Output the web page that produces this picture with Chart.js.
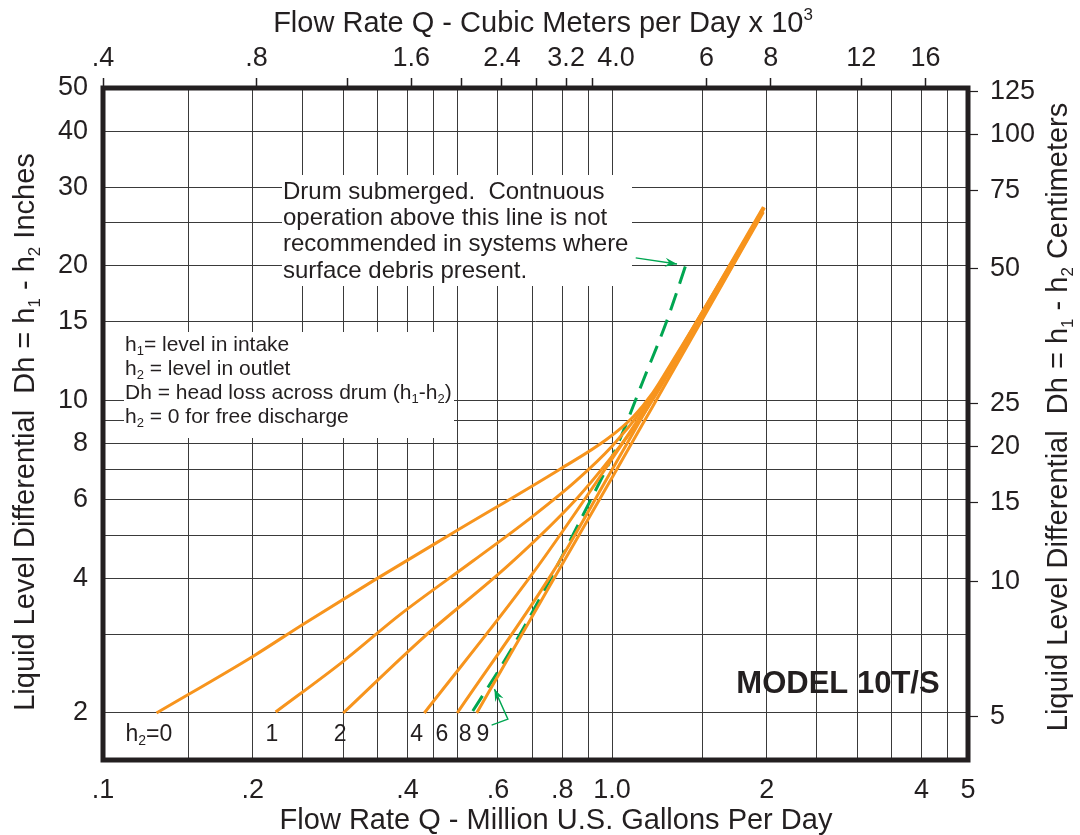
<!DOCTYPE html>
<html>
<head>
<meta charset="utf-8">
<script src="https://cdn.jsdelivr.net/npm/chart.js@4.4.1/dist/chart.umd.min.js"></script>
<style>
html,body{margin:0;padding:0;background:#ffffff;}
#wrap{width:1080px;height:835px;position:relative;}
</style>
</head>
<body>
<div id="wrap"><canvas id="c"></canvas></div>
<script>
// ---------------- DATA ----------------
// Flow rate Q in million U.S. gallons per day, head loss Dh in inches
const FLOW_H2_0 = [0.130, 0.2005, 0.2508, 0.343, 0.491, 0.792, 0.977, 1.10, 1.20, 1.32, 1.47, 1.97];
const DH_H2_0   = [2.00,  2.68,   3.16,   3.95,  5.06,  7.02,  8.19,  9.2,  10.4, 12.4, 15.2, 27.1];

const FLOW_H2_1 = [0.2217, 0.300, 0.387, 0.537, 0.70, 0.85, 1.00, 1.15, 1.30, 1.47, 1.96];
const DH_H2_1   = [2.01,   2.61,  3.32,  4.38,  5.5,  6.6,  7.9,  9.6,  11.9, 14.8, 26.3];

const FLOW_H2_2 = [0.300, 0.4295, 0.633, 0.85, 1.00, 1.15, 1.30, 1.47, 1.97];
const DH_H2_2   = [2.00,  2.95,   4.31,  6.0,  7.5,  9.3,  11.7, 15.0, 26.9];

const FLOW_H2_4 = [0.4314, 0.693, 1.00, 1.20, 1.47, 1.98];
const DH_H2_4   = [2.00,   4.03,  7.4,  10.2, 15.2, 27.0];

const FLOW_H2_8 = [0.500, 0.764, 1.00, 1.20, 1.47, 1.96];
const DH_H2_8   = [2.00,  4.10,  7.0,  10.1, 15.1, 26.5];

const FLOW_H2_9 = [0.5455, 0.80, 1.00, 1.20, 1.47, 1.97];
const DH_H2_9   = [2.00,   4.3,  6.72, 9.7,  14.6, 26.4];

// "Drum submerged" limit (green dashed)
const FLOW_LIMIT = [0.536, 0.622, 0.741, 0.873, 1.027, 1.149, 1.278, 1.406];
const DH_LIMIT   = [2.02,  2.65,  3.79,  5.47,  8.0,   11.06, 15.06, 20.8];

// Axes
const X_MIN = 0.1023, X_MAX = 4.926;          // MGD
const Y_MIN = 1.57,   Y_MAX = 50;             // inches
const TOP_FACTOR = 3.93;                       // top-axis units per MGD (as drawn)
const CM_PER_INCH = 2.54;

const X_GRID = [0.15, 0.2, 0.25, 0.3, 0.35, 0.4, 0.45, 0.5, 0.6, 0.7, 0.8, 0.9, 1.0, 1.5, 2, 2.5, 3, 3.5, 4, 4.5];
const X_LABEL_VALUES = [0.1, 0.2, 0.4, 0.6, 0.8, 1.0, 2, 4, 5];
const X_LABEL_TEXT   = ['.1', '.2', '.4', '.6', '.8', '1.0', '2', '4', '5'];

const TOP_TICK_VALUES = [0.4, 0.8, 1.2, 1.6, 2.0, 2.4, 2.8, 3.2, 3.6, 4.0, 6, 8, 12, 16];
const TOP_LABEL_VALUES = [0.4, 0.8, 1.6, 2.4, 3.2, 4.0, 6, 8, 12, 16];
const TOP_LABEL_TEXT   = ['.4', '.8', '1.6', '2.4', '3.2', '4.0', '6', '8', '12', '16'];

const Y_GRID = [2, 3, 4, 5, 6, 7, 8, 9, 10, 15, 20, 25, 30, 40];
const Y_LABEL_VALUES = [2, 4, 6, 8, 10, 15, 20, 30, 40, 50];

const CM_LABEL_VALUES = [5, 10, 15, 20, 25, 50, 75, 100, 125];

const CURVE_NAMES = ['h2=0', 'h2=1', 'h2=2', 'h2=4', 'h2=8', 'h2=9'];
const CURVE_FLOWS = [FLOW_H2_0, FLOW_H2_1, FLOW_H2_2, FLOW_H2_4, FLOW_H2_8, FLOW_H2_9];
const CURVE_DHS   = [DH_H2_0, DH_H2_1, DH_H2_2, DH_H2_4, DH_H2_8, DH_H2_9];

const CURVE_LABEL_TEXT = ['h_2=0', '1', '2', '4', '6', '8', '9'];
const CURVE_LABEL_FLOW = [0.1256, 0.218, 0.296, 0.417, 0.467, 0.518, 0.561];
const CURVE_LABEL_DH = 1.81;

// ---------------- STYLE / LAYOUT ----------------
const FONT = "'Liberation Sans', Arial, Helvetica, sans-serif";
const INK = '#231f20';
const GRIDC = '#3a3a3a';
const ORANGE = '#f7941d';
const GREEN = '#00a651';
const TICK_SIZE = 27;

const LAYOUT = {
  left: 103, right: 112, top: 88, bottom: 75,
  topTitle: {x: 543, y: 22, size: 29, text: 'Flow Rate Q - Cubic Meters per Day x 10^3'},
  bottomTitle: {x: 556, y: 819, size: 29, text: 'Flow Rate Q - Million U.S. Gallons Per Day'},
  leftTitle: {x: 24, y: 432, size: 29, text: 'Liquid Level Differential  Dh = h_1 - h_2 Inches'},
  rightTitle: {x: 1057, y: 417, size: 29, text: 'Liquid Level Differential  Dh = h_1 - h_2 Centimeters'},
  noteBox: {x: 282, y: 175, w: 350, h: 111, tx: 283, ty: 190, dy: 26.3, size: 24,
    lines: ['Drum submerged.  Contnuous', 'operation above this line is not', 'recommended in systems where', 'surface debris present.']},
  keyBox: {x: 124, y: 332, w: 330, h: 106, tx: 125, ty: 343, dy: 24.2, size: 21,
    lines: ['h_1= level in intake', 'h_2 = level in outlet', 'Dh = head loss across drum (h_1-h_2)', 'h_2 = 0 for free discharge']},
  model: {x: 838, y: 682, size: 31, text: 'MODEL 10T/S'},
  arrow1: [[1.112, 20.84], [1.338, 20.2]],
  arrow2: [[0.5832, 1.879], [0.6273, 1.938], [0.5906, 2.262]]
};

// ---------------- helpers ----------------
function points(xs, ys) { return xs.map((x, i) => ({x: x, y: ys[i]})); }

function tickObjects(gridVals, labelVals, labelTexts, min, max) {
  const map = new Map();
  gridVals.forEach(v => { if (v >= min && v <= max) map.set(v, ''); });
  labelVals.forEach((v, i) => {
    const c = Math.min(max, Math.max(min, v));
    map.set(c, labelTexts[i]);
  });
  return [...map.entries()].sort((a, b) => a[0] - b[0]).map(([v, t]) => ({value: v, text: t}));
}

function richParts(str) {
  const parts = []; let i = 0;
  while (i < str.length) {
    const ch = str[i];
    if ((ch === '_' || ch === '^') && i + 1 < str.length) {
      parts.push({t: str[i + 1], mode: ch === '_' ? 'sub' : 'sup'}); i += 2;
    } else {
      let s = '';
      while (i < str.length && str[i] !== '_' && str[i] !== '^') { s += str[i]; i++; }
      parts.push({t: s, mode: 'n'});
    }
  }
  return parts;
}

function drawRich(ctx, str, x, y, size, opts) {
  opts = opts || {};
  const parts = richParts(str);
  const fontFor = m => (opts.bold ? 'bold ' : '') + (m === 'n' ? size : Math.round(size * 0.6)) + 'px ' + FONT;
  ctx.save();
  ctx.translate(x, y);
  if (opts.rotate) ctx.rotate(opts.rotate);
  let w = 0;
  parts.forEach(p => { ctx.font = fontFor(p.mode); p.w = ctx.measureText(p.t).width; w += p.w; });
  let cx = opts.align === 'center' ? -w / 2 : 0;
  ctx.textAlign = 'left';
  ctx.textBaseline = 'alphabetic';
  ctx.fillStyle = opts.color || INK;
  const base = size * 0.36;
  parts.forEach(p => {
    ctx.font = fontFor(p.mode);
    let dy = base;
    if (p.mode === 'sub') dy += size * 0.2;
    if (p.mode === 'sup') dy -= size * 0.42;
    ctx.fillText(p.t, cx, dy);
    cx += p.w;
  });
  ctx.restore();
}

function drawArrow(ctx, pts, color) {
  ctx.save();
  ctx.strokeStyle = color; ctx.fillStyle = color; ctx.lineWidth = 1.4;
  ctx.beginPath();
  ctx.moveTo(pts[0][0], pts[0][1]);
  for (let i = 1; i < pts.length; i++) ctx.lineTo(pts[i][0], pts[i][1]);
  ctx.stroke();
  const [x1, y1] = pts[pts.length - 2], [x2, y2] = pts[pts.length - 1];
  const a = Math.atan2(y2 - y1, x2 - x1), L = 12, W = 4.5;
  const c = Math.cos(a), s = Math.sin(a);
  ctx.beginPath();
  ctx.moveTo(x2, y2);
  ctx.lineTo(x2 - L * c + W * s, y2 - L * s - W * c);
  ctx.lineTo(x2 - 0.65 * L * c, y2 - 0.65 * L * s);
  ctx.lineTo(x2 - L * c - W * s, y2 - L * s + W * c);
  ctx.closePath();
  ctx.fill();
  ctx.restore();
}

// ---------------- plugins ----------------
const decorPlugin = {
  id: 'decor',
  beforeDatasetsDraw(chart) {
    const ctx = chart.ctx;
    [LAYOUT.noteBox, LAYOUT.keyBox].forEach(b => {
      ctx.save();
      ctx.fillStyle = '#ffffff';
      ctx.fillRect(b.x, b.y, b.w, b.h);
      ctx.restore();
      b.lines.forEach((ln, i) => drawRich(ctx, ln, b.tx, b.ty + i * b.dy, b.size));
    });
    const xs = chart.scales.x, ys = chart.scales.y;
    CURVE_LABEL_TEXT.forEach((t, i) => {
      drawRich(ctx, t, xs.getPixelForValue(CURVE_LABEL_FLOW[i]), ys.getPixelForValue(CURVE_LABEL_DH), 23, {align: 'center'});
    });
    drawRich(ctx, LAYOUT.model.text, LAYOUT.model.x, LAYOUT.model.y, LAYOUT.model.size, {align: 'center', bold: true});
  },
  afterDatasetsDraw(chart) {
    const ctx = chart.ctx, xs = chart.scales.x, ys = chart.scales.y;
    const px = p => [xs.getPixelForValue(p[0]), ys.getPixelForValue(p[1])];
    drawArrow(ctx, LAYOUT.arrow1.map(px), GREEN);
    drawArrow(ctx, LAYOUT.arrow2.map(px), GREEN);
  },
  afterDraw(chart) {
    const ctx = chart.ctx, a = chart.chartArea;
    ctx.save();
    ctx.strokeStyle = INK; ctx.lineWidth = 5;
    ctx.strokeRect(a.left, a.top, a.right - a.left, a.bottom - a.top);
    ctx.restore();
    const T = LAYOUT;
    drawRich(ctx, T.topTitle.text, T.topTitle.x, T.topTitle.y, T.topTitle.size, {align: 'center'});
    drawRich(ctx, T.bottomTitle.text, T.bottomTitle.x, T.bottomTitle.y, T.bottomTitle.size, {align: 'center'});
    drawRich(ctx, T.leftTitle.text, T.leftTitle.x, T.leftTitle.y, T.leftTitle.size, {align: 'center', rotate: -Math.PI / 2});
    drawRich(ctx, T.rightTitle.text, T.rightTitle.x, T.rightTitle.y, T.rightTitle.size, {align: 'center', rotate: -Math.PI / 2});
  }
};

// ---------------- chart ----------------
const datasets = CURVE_NAMES.map((n, i) => ({
  label: n,
  data: points(CURVE_FLOWS[i], CURVE_DHS[i]),
  borderColor: ORANGE,
  borderWidth: 3,
  pointRadius: 0,
  fill: false,
  cubicInterpolationMode: 'monotone',
  xAxisID: 'x', yAxisID: 'y'
}));
datasets.push({
  label: 'Drum submerged limit',
  data: points(FLOW_LIMIT, DH_LIMIT),
  borderColor: GREEN,
  borderWidth: 3,
  borderDash: [18, 10],
  pointRadius: 0,
  fill: false,
  cubicInterpolationMode: 'monotone',
  xAxisID: 'x', yAxisID: 'y'
});

const tickFont = {family: FONT, size: TICK_SIZE};
const labelCb = (v, i, ticks) => (ticks[i] && ticks[i].text) || '';

new Chart(document.getElementById('c'), {
  type: 'line',
  data: {datasets: datasets},
  plugins: [decorPlugin],
  options: {
    responsive: true,
    maintainAspectRatio: false,
    animation: false,
    layout: {padding: 0},
    plugins: {legend: {display: false}, tooltip: {enabled: false}},
    scales: {
      x: {
        type: 'logarithmic', position: 'bottom', min: X_MIN, max: X_MAX, bounds: 'data',
        afterBuildTicks: s => { s.ticks = tickObjects(X_GRID, X_LABEL_VALUES, X_LABEL_TEXT, s.min, s.max); },
        afterFit: s => { s.height = LAYOUT.bottom; },
        grid: {color: GRIDC, lineWidth: 1, drawTicks: false},
        border: {display: false},
        ticks: {autoSkip: false, maxRotation: 0, padding: 14, color: INK, font: tickFont, callback: labelCb}
      },
      xTop: {
        type: 'logarithmic', position: 'top', min: X_MIN * TOP_FACTOR, max: X_MAX * TOP_FACTOR, bounds: 'data',
        afterBuildTicks: s => { s.ticks = tickObjects(TOP_TICK_VALUES, TOP_LABEL_VALUES, TOP_LABEL_TEXT, s.min, s.max); },
        afterFit: s => { s.height = LAYOUT.top; },
        grid: {drawOnChartArea: false, drawTicks: true, tickLength: 10, tickWidth: 1.5,
               tickColor: c => (c.tick && c.tick.value === 4.0) ? 'rgba(0,0,0,0)' : INK},
        border: {display: false},
        ticks: {autoSkip: false, maxRotation: 0, padding: 3, color: INK, font: tickFont, callback: labelCb}
      },
      y: {
        type: 'logarithmic', position: 'left', min: Y_MIN, max: Y_MAX, bounds: 'data',
        afterBuildTicks: s => { s.ticks = tickObjects(Y_GRID, Y_LABEL_VALUES, Y_LABEL_VALUES.map(String), s.min, s.max); },
        afterFit: s => { s.width = LAYOUT.left; },
        grid: {color: GRIDC, lineWidth: 1, drawTicks: false},
        border: {display: false},
        ticks: {autoSkip: false, padding: 15, color: INK, font: tickFont, callback: labelCb}
      },
      yRight: {
        type: 'logarithmic', position: 'right', min: Y_MIN * CM_PER_INCH, max: Y_MAX * CM_PER_INCH, bounds: 'data',
        afterBuildTicks: s => { s.ticks = tickObjects([], CM_LABEL_VALUES, CM_LABEL_VALUES.map(String), s.min, s.max); },
        afterFit: s => { s.width = LAYOUT.right; },
        grid: {drawOnChartArea: false, drawTicks: true, tickLength: 10, tickWidth: 1.2, tickColor: INK},
        border: {display: false},
        ticks: {autoSkip: false, padding: 12, color: INK, font: tickFont, callback: labelCb}
      }
    }
  }
});
</script>
</body>
</html>
